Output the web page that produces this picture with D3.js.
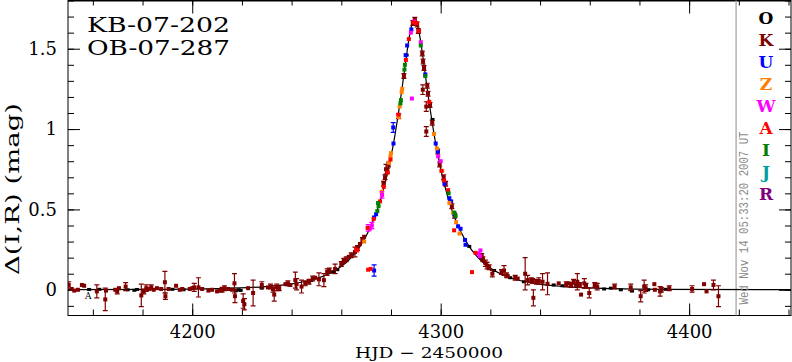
<!DOCTYPE html>
<html>
<head>
<meta charset="utf-8">
<script src="https://cdn.jsdelivr.net/npm/d3@7"></script>
<style>
  body { margin: 0; background: #fff; }
  svg { display: block; }
</style>
</head>
<body>
<div id="chart"></div>
<script>
// Event names
const eventNames = ["KB-07-202", "OB-07-287"];

// Observatories (legend order) and colours
const obsCodes = ["O", "K", "U", "Z", "W", "A", "I", "J", "R"];
const obsColours = ["#000000", "#800000", "#0000ff", "#ff8000", "#ff00ff", "#ff0000", "#008000", "#00a0a0", "#800080"];

// Axis ranges and ticks
const hjdRange = [4150, 4441];
const magRange = [-0.16, 1.8];
const xMajor = [4200, 4300, 4400];
const xMinor = d3.range(4160, 4441, 20);
const yMajor = [0, 0.5, 1, 1.5];
const yMinor = d3.range(-1, 19).map(i => i / 10);
const nowHJD = 4418.9;
const timeStamp = "Wed Nov 14 05:33:20 2007 UT";

// Model light curve (HJD-2450000, Δmag)
const modelT = [4150, 4189.5, 4209.5, 4229.5, 4239.5, 4249.5, 4254.5, 4259.5, 4263.5, 4267.5,
  4271.5, 4274.5, 4277.5, 4279.5, 4281.5, 4282.5, 4283.5, 4284.5, 4285.5, 4286.5, 4287.5, 4288.5,
  4289.5, 4290.5, 4291.5, 4292.5, 4293.5, 4294.5, 4295.5, 4296.5, 4297.5, 4299.5, 4301.5, 4304.5,
  4307.5, 4311.5, 4315.5, 4319.5, 4324.5, 4329.5, 4339.5, 4349.5, 4369.5, 4389.5, 4441];
const modelMag = [0.001, 0.003, 0.007, 0.020, 0.035, 0.067, 0.096, 0.140, 0.193, 0.269,
  0.381, 0.497, 0.655, 0.790, 0.953, 1.049, 1.150, 1.260, 1.374, 1.486, 1.586, 1.657,
  1.683, 1.657, 1.586, 1.486, 1.374, 1.260, 1.150, 1.049, 0.953, 0.790, 0.655, 0.497,
  0.381, 0.269, 0.193, 0.140, 0.096, 0.067, 0.035, 0.020, 0.007, 0.003, 0.001];

// Photometry per observatory: [HJD-2450000, Δmag, error]
const oData = [
  [4158.5, 0.002, 0.006], [4162.6, 0.003, 0.006], [4174.0, 0.000, 0.006], [4176.7, -0.003, 0.006],
  [4177.8, 0.002, 0.006], [4192.0, 0.003, 0.006], [4196.5, 0.000, 0.006], [4217.6, -0.005, 0.006],
  [4218.7, 0.000, 0.006], [4219.5, -0.004, 0.006], [4228.0, 0.010, 0.006], [4239.0, 0.030, 0.006],
  [4247.8, 0.058, 0.006], [4256.2, 0.110, 0.006], [4257.0, 0.112, 0.006], [4258.4, 0.125, 0.006],
  [4286.3, 1.460, 0.006], [4296.7, 1.060, 0.006], [4311.5, 0.270, 0.006], [4321.5, 0.120, 0.006],
  [4328.0, 0.075, 0.006], [4333.5, 0.050, 0.006], [4345.5, 0.030, 0.006], [4349.0, 0.025, 0.006],
  [4365.8, 0.005, 0.006], [4368.5, 0.010, 0.006], [4372.5, 0.000, 0.006], [4377.0, -0.008, 0.006],
  [4383.5, 0.000, 0.006], [4390.5, 0.003, 0.006]
];
const kData = [
  [4150.3, 0.030, 0.020], [4151.5, 0.005, 0.010], [4152.5, -0.005, 0.010], [4154.0, 0.000, 0.010],
  [4155.6, 0.030, 0.010], [4156.5, 0.025, 0.010], [4161.6, -0.010, 0.040], [4165.0, -0.060, 0.070],
  [4165.3, -0.005, 0.010], [4169.0, 0.000, 0.010], [4169.8, -0.010, 0.015], [4170.5, 0.010, 0.010],
  [4173.2, 0.020, 0.025], [4179.5, -0.035, 0.070], [4180.5, -0.010, 0.015], [4181.5, 0.010, 0.020],
  [4182.5, 0.005, 0.010], [4183.5, 0.015, 0.015], [4184.5, 0.000, 0.010], [4185.8, 0.010, 0.010],
  [4187.5, 0.005, 0.010], [4189.0, 0.047, 0.067], [4189.2, -0.040, 0.020], [4190.5, 0.005, 0.010],
  [4193.5, 0.025, 0.010], [4195.0, 0.000, 0.010], [4196.0, 0.005, 0.010], [4199.0, 0.005, 0.010],
  [4200.0, 0.010, 0.010], [4200.8, 0.015, 0.025], [4202.5, 0.015, 0.060], [4204.0, 0.005, 0.012],
  [4206.5, -0.005, 0.010], [4208.0, 0.000, 0.010], [4210.0, -0.010, 0.010], [4211.0, -0.005, 0.012],
  [4212.0, 0.000, 0.015], [4213.0, 0.010, 0.015], [4214.5, 0.005, 0.012], [4216.0, 0.000, 0.012],
  [4217.0, 0.040, 0.060], [4217.2, -0.040, 0.040], [4220.5, -0.070, 0.045], [4221.0, -0.090, 0.035],
  [4222.5, 0.010, 0.010], [4224.5, -0.020, 0.080], [4228.0, 0.030, 0.020], [4230.5, 0.015, 0.012],
  [4231.5, 0.020, 0.015], [4232.5, 0.005, 0.020], [4233.0, -0.030, 0.040], [4234.0, 0.015, 0.020],
  [4235.0, 0.010, 0.015], [4237.5, 0.035, 0.012], [4238.5, 0.040, 0.015], [4239.5, 0.030, 0.012],
  [4241.5, 0.060, 0.050], [4242.0, 0.035, 0.035], [4244.0, 0.020, 0.040], [4245.5, 0.040, 0.015],
  [4247.0, 0.050, 0.015], [4248.5, 0.070, 0.015], [4249.5, 0.075, 0.012], [4251.0, 0.065, 0.040],
  [4253.0, 0.060, 0.040], [4254.3, 0.110, 0.020], [4255.2, 0.120, 0.015], [4257.5, 0.130, 0.030],
  [4260.0, 0.160, 0.015], [4261.0, 0.180, 0.015], [4262.0, 0.190, 0.015], [4263.0, 0.205, 0.012],
  [4264.0, 0.215, 0.015], [4265.5, 0.235, 0.030], [4266.5, 0.260, 0.015], [4267.5, 0.285, 0.012],
  [4268.5, 0.310, 0.015], [4269.2, 0.330, 0.012], [4277.0, 0.660, 0.015], [4277.6, 0.700, 0.015],
  [4278.0, 0.750, 0.030], [4278.5, 0.740, 0.015], [4279.0, 0.780, 0.015], [4283.1, 1.080, 0.015],
  [4285.2, 1.330, 0.015], [4288.8, 1.660, 0.015], [4289.6, 1.680, 0.015], [4290.5, 1.650, 0.015],
  [4291.0, 1.610, 0.015], [4292.6, 1.470, 0.015], [4292.9, 1.420, 0.015], [4293.3, 1.380, 0.015],
  [4294.6, 1.270, 0.015], [4294.9, 1.220, 0.015], [4295.7, 1.150, 0.015], [4296.6, 1.040, 0.015],
  [4298.8, 0.860, 0.015], [4299.6, 0.780, 0.015], [4301.2, 0.700, 0.015], [4302.0, 0.660, 0.015],
  [4304.5, 0.520, 0.015], [4305.6, 0.460, 0.015], [4292.8, 1.245, 0.030], [4294.2, 1.140, 0.030],
  [4294.2, 0.985, 0.030], [4316.5, 0.210, 0.015], [4317.0, 0.190, 0.015], [4318.0, 0.165, 0.020],
  [4318.7, 0.150, 0.020], [4319.5, 0.140, 0.015], [4320.8, 0.100, 0.020], [4324.5, 0.110, 0.015],
  [4325.5, 0.120, 0.030], [4326.5, 0.090, 0.015], [4327.0, 0.085, 0.012], [4330.0, 0.075, 0.015],
  [4331.0, 0.070, 0.012], [4334.0, 0.100, 0.100], [4335.0, 0.060, 0.030], [4336.5, 0.060, 0.015],
  [4337.0, 0.055, 0.015], [4337.3, -0.050, 0.050], [4338.5, 0.050, 0.015], [4339.5, 0.055, 0.020],
  [4341.0, 0.050, 0.050], [4343.0, 0.037, 0.068], [4347.5, 0.040, 0.010], [4350.5, 0.035, 0.015],
  [4351.5, 0.040, 0.012], [4352.5, 0.030, 0.015], [4353.5, 0.050, 0.015], [4354.5, 0.030, 0.012],
  [4355.0, 0.050, 0.050], [4356.0, 0.030, 0.015], [4356.5, -0.030, 0.010], [4357.8, 0.040, 0.030],
  [4358.5, 0.025, 0.015], [4359.8, -0.020, 0.030], [4362.0, 0.030, 0.015], [4363.0, 0.020, 0.020],
  [4370.0, 0.020, 0.015], [4376.5, 0.015, 0.020], [4380.5, -0.040, 0.035], [4381.9, 0.020, 0.040],
  [4382.5, 0.010, 0.020], [4386.0, 0.035, 0.010], [4386.2, 0.000, 0.010], [4388.3, -0.010, 0.030],
  [4388.8, 0.000, 0.015], [4392.0, 0.010, 0.015], [4401.2, 0.005, 0.020], [4406.0, 0.035, 0.012],
  [4407.0, -0.010, 0.012], [4409.8, 0.030, 0.030], [4411.8, -0.040, 0.065]
];
const uData = [
  [4286.5, 1.520, 0.01], [4285.9, 1.460, 0.01], [4288.2, 1.620, 0.01], [4281.0, 0.910, 0.01],
  [4273.2, 0.450, 0.01], [4274.0, 0.470, 0.01], [4280.9, 1.010, 0.030], [4273.2, 0.120, 0.035],
  [4293.8, 1.340, 0.01], [4298.0, 0.910, 0.01], [4298.9, 0.860, 0.01], [4301.5, 0.660, 0.01],
  [4303.5, 0.570, 0.01], [4304.2, 0.550, 0.01], [4305.5, 0.470, 0.01], [4307.0, 0.395, 0.01],
  [4308.0, 0.380, 0.01], [4309.8, 0.310, 0.01], [4310.0, 0.280, 0.01]
];
const zData = [
  [4284.5, 1.250, 0.01], [4284.3, 1.230, 0.01], [4283.5, 1.140, 0.01], [4283.2, 1.075, 0.01],
  [4280.0, 0.850, 0.01], [4279.8, 0.830, 0.01], [4279.2, 0.790, 0.01], [4276.3, 0.610, 0.01],
  [4269.2, 0.300, 0.01], [4297.3, 0.970, 0.01], [4298.5, 0.880, 0.01], [4300.6, 0.740, 0.01],
  [4303.5, 0.540, 0.01], [4305.0, 0.480, 0.01], [4306.2, 0.420, 0.01], [4307.6, 0.350, 0.01]
];
const wData = [
  [4288.0, 1.600, 0.01], [4289.3, 1.670, 0.01], [4276.4, 0.590, 0.020], [4272.3, 0.400, 0.020],
  [4271.5, 0.380, 0.01], [4270.8, 0.385, 0.020], [4288.4, 1.190, 0.01], [4292.0, 1.540, 0.01],
  [4299.0, 0.830, 0.01], [4300.0, 0.800, 0.01], [4315.2, 0.225, 0.01], [4315.8, 0.210, 0.01],
  [4316.0, 0.245, 0.01]
];
const aData = [
  [4287.2, 1.560, 0.01], [4286.0, 1.430, 0.01], [4289.0, 1.665, 0.01], [4283.0, 1.090, 0.01],
  [4279.8, 0.810, 0.01], [4278.7, 0.730, 0.01], [4277.1, 0.640, 0.01], [4275.6, 0.550, 0.01],
  [4273.0, 0.440, 0.01], [4270.6, 0.385, 0.01], [4266.0, 0.250, 0.01], [4291.3, 1.610, 0.01],
  [4290.3, 1.660, 0.01], [4295.4, 1.170, 0.01], [4300.3, 0.740, 0.01], [4301.3, 0.680, 0.01],
  [4303.0, 0.620, 0.01], [4270.8, 0.125, 0.01], [4271.8, 0.130, 0.01], [4305.4, 0.370, 0.01],
  [4312.6, 0.110, 0.01], [4266.4, 0.245, 0.01], [4314.0, 0.230, 0.01]
];
const iData = [
  [4285.6, 1.400, 0.01], [4285.4, 1.370, 0.01], [4284.0, 1.180, 0.01], [4283.8, 1.160, 0.01],
  [4275.0, 0.520, 0.01], [4274.5, 0.490, 0.01], [4274.8, 0.540, 0.01], [4292.0, 1.520, 0.01],
  [4293.8, 1.330, 0.01], [4303.2, 0.600, 0.01], [4305.5, 0.480, 0.01], [4306.0, 0.460, 0.01]
];
const jData = [];
const rData = [];
const obsData = [oData, kData, uData, zData, wData, aData, iData, jData, rData];

// Dimensions
const dims = {width: 792, height: 362};
const plot = {left: 68, right: 791, top: 0.5, bottom: 315.5};
const serif = '"DejaVu Serif", serif';

// Scales
const x = d3.scaleLinear().domain(hjdRange).range([plot.left, plot.right]);
const y = d3.scaleLinear().domain(magRange).range([plot.bottom, plot.top]);

// SVG
const svg = d3.select('#chart').append('svg')
  .attr('width', dims.width)
  .attr('height', dims.height)
  .style('background', '#fff');

svg.append('clipPath').attr('id', 'clip')
  .append('rect')
    .attr('x', plot.left).attr('y', plot.top)
    .attr('width', plot.right - plot.left).attr('height', plot.bottom - plot.top);

// Axis helper
const drawAxis = (axis, transform) => {
  const g = svg.append('g').attr('transform', transform).call(axis);
  g.select('.domain').remove();
  g.selectAll('line').attr('stroke', '#000');
  g.attr('font-family', serif).attr('font-size', 18);
  g.selectAll('text').attr('fill', '#000');
  return g;
};

// Minor ticks on all four sides
drawAxis(d3.axisBottom(x).tickValues(xMinor).tickSize(-6).tickFormat(''), `translate(0,${plot.bottom})`);
drawAxis(d3.axisTop(x).tickValues(xMinor).tickSize(-5).tickFormat(''), `translate(0,${plot.top})`);
drawAxis(d3.axisLeft(y).tickValues(yMinor).tickSize(-6).tickFormat(''), `translate(${plot.left},0)`);
drawAxis(d3.axisRight(y).tickValues(yMinor).tickSize(-6).tickFormat(''), `translate(${plot.right},0)`);

// Major ticks with labels
drawAxis(d3.axisBottom(x).tickValues(xMajor).tickSize(-12).tickPadding(10).tickFormat(d3.format('d')), `translate(0,${plot.bottom})`);
drawAxis(d3.axisTop(x).tickValues(xMajor).tickSize(-13).tickFormat(''), `translate(0,${plot.top})`);
drawAxis(d3.axisLeft(y).tickValues(yMajor).tickSize(-12).tickPadding(11).tickFormat(d => d), `translate(${plot.left},0)`);
drawAxis(d3.axisRight(y).tickValues(yMajor).tickSize(-12).tickFormat(''), `translate(${plot.right},0)`);

// Frame
svg.append('rect')
  .attr('x', plot.left).attr('y', plot.top)
  .attr('width', plot.right - plot.left).attr('height', plot.bottom - plot.top)
  .attr('fill', 'none').attr('stroke', '#000').attr('stroke-width', 1);
svg.append('line')
  .attr('x1', plot.left).attr('x2', plot.right).attr('y1', 1).attr('y2', 1)
  .attr('stroke', '#000').attr('stroke-width', 1);

// Current date line
svg.append('line')
  .attr('x1', x(nowHJD)).attr('x2', x(nowHJD))
  .attr('y1', plot.top).attr('y2', plot.bottom)
  .attr('stroke', '#a0a0a0').attr('stroke-width', 1.2);

// Data layer
const layer = svg.append('g').attr('clip-path', 'url(#clip)');

// Model curve
const model = modelT.map((t, i) => [t, modelMag[i]]);
layer.append('path')
  .datum(model)
  .attr('fill', 'none')
  .attr('stroke', '#000')
  .attr('stroke-width', 1.2)
  .attr('d', d3.line().x(d => x(d[0])).y(d => y(d[1])).curve(d3.curveMonotoneX));

// Points with error bars
obsData.forEach((data, i) => {
  const colour = obsColours[i];
  const g = layer.append('g').attr('class', 'obs-' + obsCodes[i]);
  data.forEach(d => {
    const cx = x(d[0]);
    const y1 = y(d[1] + d[2]);
    const y2 = y(d[1] - d[2]);
    if (y2 - y1 > 4) {
      g.append('line').attr('x1', cx).attr('x2', cx).attr('y1', y1).attr('y2', y2)
        .attr('stroke', colour).attr('stroke-width', 1.2);
      [y1, y2].forEach(yy => g.append('line')
        .attr('x1', cx - 2.5).attr('x2', cx + 2.5).attr('y1', yy).attr('y2', yy)
        .attr('stroke', colour).attr('stroke-width', 1.2));
    }
    const w = 4;
    const h = i === 0 ? 3 : 4;
    g.append('rect')
      .attr('x', cx - w / 2).attr('y', y(d[1]) - h / 2)
      .attr('width', w).attr('height', h)
      .attr('fill', colour);
  });
});

// Small site marker seen below the baseline
svg.append('text')
  .attr('x', x(4158.2)).attr('y', y(-0.06))
  .attr('text-anchor', 'middle')
  .attr('font-family', serif).attr('font-size', 9)
  .text('A');

// Event names
eventNames.forEach((name, i) => {
  svg.append('text')
    .attr('x', 87).attr('y', 32 + i * 23)
    .attr('font-family', serif).attr('font-size', 21)
    .attr('textLength', 143).attr('lengthAdjust', 'spacingAndGlyphs')
    .text(name);
});

// Legend letters
obsCodes.forEach((code, i) => {
  svg.append('text')
    .attr('x', 766).attr('y', 23.5 + i * 22)
    .attr('text-anchor', 'middle')
    .attr('font-family', serif).attr('font-size', 17).attr('font-weight', 'bold')
    .attr('fill', obsColours[i])
    .text(code);
});

// Time stamp
svg.append('text')
  .attr('transform', 'translate(748,218) rotate(-90)')
  .attr('text-anchor', 'middle')
  .attr('font-family', '"Liberation Mono", monospace').attr('font-size', 12)
  .attr('fill', '#8a8a8a')
  .attr('textLength', 173).attr('lengthAdjust', 'spacingAndGlyphs')
  .text(timeStamp);

// Axis titles
svg.append('text')
  .attr('x', 355).attr('y', 358)
  .attr('font-family', serif).attr('font-size', 15)
  .attr('textLength', 148).attr('lengthAdjust', 'spacingAndGlyphs')
  .text('HJD \u2212 2450000');

svg.append('text')
  .attr('transform', 'translate(19,189) rotate(-90)')
  .attr('text-anchor', 'middle')
  .attr('font-family', serif).attr('font-size', 18)
  .attr('textLength', 172).attr('lengthAdjust', 'spacingAndGlyphs')
  .text('\u0394(I,R) (mag)');
</script>
</body>
</html>
